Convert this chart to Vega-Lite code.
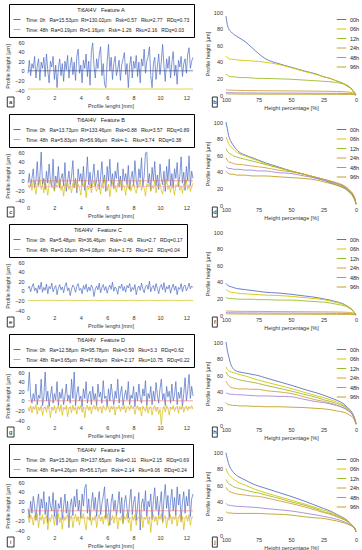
{
"$schema":"https://vega.github.io/schema/vega-lite/v6.json",
"padding":{"left":5,"top":3,"right":0,"bottom":0},
"config":{"font":"Liberation Sans","view":{"stroke":null},
"axis":{"labelFontSize":5.5,"titleFontSize":5.5,"titleFontWeight":"normal","labelColor":"#333","titleColor":"#333","grid":false,"domain":false,"ticks":false,"labelOverlap":false,"labelFlush":false,"labelBound":false}},
"datasets":{
"A":[
{"x":0,"0h":-5,"48h":-38},{"x":0.1,"0h":22,"48h":-37.6},{"x":0.2,"0h":-10,"48h":-38.3},{"x":0.3,"0h":15,"48h":-37.9},{"x":0.4,"0h":5,"48h":-38.1},{"x":0.5,"0h":30,"48h":-38.4},{"x":0.6,"0h":-15,"48h":-37.7},{"x":0.7,"0h":10,"48h":-38},{"x":0.8,"0h":25,"48h":-38.2},{"x":0.9,"0h":-20,"48h":-37.8},
{"x":1,"0h":18,"48h":-38},{"x":1.1,"0h":5,"48h":-37.6},{"x":1.2,"0h":28,"48h":-38.3},{"x":1.3,"0h":-12,"48h":-37.9},{"x":1.4,"0h":35,"48h":-38.1},{"x":1.5,"0h":0,"48h":-38.4},{"x":1.6,"0h":-25,"48h":-37.7},{"x":1.7,"0h":20,"48h":-38},{"x":1.8,"0h":8,"48h":-38.2},{"x":1.9,"0h":30,"48h":-37.8},
{"x":2,"0h":-18,"48h":-38},{"x":2.1,"0h":12,"48h":-37.6},{"x":2.2,"0h":-35,"48h":-38.3},{"x":2.3,"0h":5,"48h":-37.9},{"x":2.4,"0h":25,"48h":-38.1},{"x":2.5,"0h":-10,"48h":-38.4},{"x":2.6,"0h":15,"48h":-37.7},{"x":2.7,"0h":-22,"48h":-38},{"x":2.8,"0h":20,"48h":-38.2},{"x":2.9,"0h":2,"48h":-37.8},
{"x":3,"0h":32,"48h":-38},{"x":3.1,"0h":-15,"48h":-37.6},{"x":3.2,"0h":10,"48h":-38.3},{"x":3.3,"0h":28,"48h":-37.9},{"x":3.4,"0h":-8,"48h":-38.1},{"x":3.5,"0h":18,"48h":-38.4},{"x":3.6,"0h":-20,"48h":-37.7},{"x":3.7,"0h":30,"48h":-38},{"x":3.8,"0h":45,"48h":-38.2},{"x":3.9,"0h":-5,"48h":-37.8},
{"x":4,"0h":12,"48h":-38},{"x":4.1,"0h":-25,"48h":-37.6},{"x":4.2,"0h":22,"48h":-38.3},{"x":4.3,"0h":5,"48h":-37.9},{"x":4.4,"0h":35,"48h":-38.1},{"x":4.5,"0h":-12,"48h":-38.4},{"x":4.6,"0h":20,"48h":-37.7},{"x":4.7,"0h":-30,"48h":-38},{"x":4.8,"0h":40,"48h":-38.2},{"x":4.9,"0h":58,"48h":-37.8},
{"x":5,"0h":10,"48h":-38},{"x":5.1,"0h":-15,"48h":-37.6},{"x":5.2,"0h":25,"48h":-38.3},{"x":5.3,"0h":5,"48h":-37.9},{"x":5.4,"0h":35,"48h":-38.1},{"x":5.5,"0h":50,"48h":-38.4},{"x":5.6,"0h":-10,"48h":-37.7},{"x":5.7,"0h":15,"48h":-38},{"x":5.8,"0h":-28,"48h":-38.2},{"x":5.9,"0h":-35,"48h":-37.8},
{"x":6,"0h":20,"48h":-38},{"x":6.1,"0h":55,"48h":-37.6},{"x":6.2,"0h":0,"48h":-38.3},{"x":6.3,"0h":28,"48h":-37.9},{"x":6.4,"0h":-18,"48h":-38.1},{"x":6.5,"0h":15,"48h":-38.4},{"x":6.6,"0h":30,"48h":-37.7},{"x":6.7,"0h":-10,"48h":-38},{"x":6.8,"0h":5,"48h":-38.2},{"x":6.9,"0h":22,"48h":-37.8},
{"x":7,"0h":-20,"48h":-38},{"x":7.1,"0h":12,"48h":-37.6},{"x":7.2,"0h":25,"48h":-38.3},{"x":7.3,"0h":38,"48h":-37.9},{"x":7.4,"0h":-8,"48h":-38.1},{"x":7.5,"0h":15,"48h":-38.4},{"x":7.6,"0h":-35,"48h":-37.7},{"x":7.7,"0h":10,"48h":-38},{"x":7.8,"0h":30,"48h":-38.2},{"x":7.9,"0h":-15,"48h":-37.8},
{"x":8,"0h":20,"48h":-38},{"x":8.1,"0h":5,"48h":-37.6},{"x":8.2,"0h":32,"48h":-38.3},{"x":8.3,"0h":-12,"48h":-37.9},{"x":8.4,"0h":18,"48h":-38.1},{"x":8.5,"0h":-25,"48h":-38.4},{"x":8.6,"0h":25,"48h":-37.7},{"x":8.7,"0h":10,"48h":-38},{"x":8.8,"0h":45,"48h":-38.2},{"x":8.9,"0h":-5,"48h":-37.8},
{"x":9,"0h":20,"48h":-38},{"x":9.1,"0h":30,"48h":-37.6},{"x":9.2,"0h":50,"48h":-38.3},{"x":9.3,"0h":-10,"48h":-37.9},{"x":9.4,"0h":-35,"48h":-38.1},{"x":9.5,"0h":15,"48h":-38.4},{"x":9.6,"0h":28,"48h":-37.7},{"x":9.7,"0h":-18,"48h":-38},{"x":9.8,"0h":8,"48h":-38.2},{"x":9.9,"0h":35,"48h":-37.8},
{"x":10,"0h":-8,"48h":-38},{"x":10.1,"0h":20,"48h":-37.6},{"x":10.2,"0h":55,"48h":-38.3},{"x":10.3,"0h":10,"48h":-37.9},{"x":10.4,"0h":-22,"48h":-38.1},{"x":10.5,"0h":25,"48h":-38.4},{"x":10.6,"0h":5,"48h":-37.7},{"x":10.7,"0h":30,"48h":-38},{"x":10.8,"0h":-15,"48h":-38.2},{"x":10.9,"0h":18,"48h":-37.8},
{"x":11,"0h":40,"48h":-38},{"x":11.1,"0h":-10,"48h":-37.6},{"x":11.2,"0h":12,"48h":-38.3},{"x":11.3,"0h":-28,"48h":-37.9},{"x":11.4,"0h":22,"48h":-38.1},{"x":11.5,"0h":8,"48h":-38.4},{"x":11.6,"0h":30,"48h":-37.7},{"x":11.7,"0h":-12,"48h":-38},{"x":11.8,"0h":15,"48h":-38.2},{"x":11.9,"0h":25,"48h":-37.8},
{"x":12,"0h":-5,"48h":-38},{"x":12.1,"0h":35,"48h":-37.6},{"x":12.2,"0h":48,"48h":-38.3},{"x":12.3,"0h":5,"48h":-37.9},{"x":12.4,"0h":20,"48h":-38.1},{"x":12.5,"0h":28,"48h":-38.4}
],
"B":[
{"x":0,"0h":-5,"48h":-8},{"x":0.1,"0h":15,"48h":-15},{"x":0.2,"0h":-12,"48h":-5},{"x":0.3,"0h":5,"48h":-20},{"x":0.4,"0h":25,"48h":0},{"x":0.5,"0h":-15,"48h":-12},{"x":0.6,"0h":0,"48h":-28},{"x":0.7,"0h":40,"48h":-5},{"x":0.8,"0h":-10,"48h":-10},{"x":0.9,"0h":10,"48h":5},
{"x":1,"0h":60,"48h":-18},{"x":1.1,"0h":-8,"48h":-8},{"x":1.2,"0h":5,"48h":-25},{"x":1.3,"0h":-18,"48h":-3},{"x":1.4,"0h":20,"48h":-12},{"x":1.5,"0h":-5,"48h":-30},{"x":1.6,"0h":35,"48h":-6},{"x":1.7,"0h":0,"48h":2},{"x":1.8,"0h":-12,"48h":-15},{"x":1.9,"0h":45,"48h":-10},
{"x":2,"0h":-20,"48h":-22},{"x":2.1,"0h":10,"48h":-4},{"x":2.2,"0h":-5,"48h":-14},{"x":2.3,"0h":30,"48h":-8},{"x":2.4,"0h":-15,"48h":5},{"x":2.5,"0h":5,"48h":-20},{"x":2.6,"0h":15,"48h":-10},{"x":2.7,"0h":-10,"48h":-32},{"x":2.8,"0h":38,"48h":-6},{"x":2.9,"0h":-22,"48h":-12},
{"x":3,"0h":0,"48h":-2},{"x":3.1,"0h":20,"48h":-18},{"x":3.2,"0h":-8,"48h":-9},{"x":3.3,"0h":10,"48h":-25},{"x":3.4,"0h":42,"48h":-5},{"x":3.5,"0h":-15,"48h":-14},{"x":3.6,"0h":5,"48h":3},{"x":3.7,"0h":-25,"48h":-20},{"x":3.8,"0h":25,"48h":-8},{"x":3.9,"0h":0,"48h":-15},
{"x":4,"0h":15,"48h":-30},{"x":4.1,"0h":-10,"48h":-6},{"x":4.2,"0h":30,"48h":-12},{"x":4.3,"0h":-20,"48h":-2},{"x":4.4,"0h":5,"48h":-35},{"x":4.5,"0h":50,"48h":-10},{"x":4.6,"0h":-8,"48h":-18},{"x":4.7,"0h":18,"48h":-5},{"x":4.8,"0h":-15,"48h":-25},{"x":4.9,"0h":10,"48h":-8},
{"x":5,"0h":35,"48h":0},{"x":5.1,"0h":-12,"48h":-15},{"x":5.2,"0h":0,"48h":-22},{"x":5.3,"0h":22,"48h":-6},{"x":5.4,"0h":-18,"48h":-12},{"x":5.5,"0h":8,"48h":-28},{"x":5.6,"0h":40,"48h":-4},{"x":5.7,"0h":-5,"48h":-16},{"x":5.8,"0h":12,"48h":5},{"x":5.9,"0h":-22,"48h":-10},
{"x":6,"0h":30,"48h":-20},{"x":6.1,"0h":0,"48h":-7},{"x":6.2,"0h":45,"48h":-33},{"x":6.3,"0h":-10,"48h":-12},{"x":6.4,"0h":15,"48h":-3},{"x":6.5,"0h":-15,"48h":-18},{"x":6.6,"0h":20,"48h":-9},{"x":6.7,"0h":5,"48h":-24},{"x":6.8,"0h":38,"48h":-5},{"x":6.9,"0h":-12,"48h":-14},
{"x":7,"0h":10,"48h":2},{"x":7.1,"0h":-20,"48h":-20},{"x":7.2,"0h":25,"48h":-8},{"x":7.3,"0h":0,"48h":-12},{"x":7.4,"0h":15,"48h":-30},{"x":7.5,"0h":-8,"48h":-6},{"x":7.6,"0h":32,"48h":-16},{"x":7.7,"0h":-18,"48h":-2},{"x":7.8,"0h":5,"48h":-22},{"x":7.9,"0h":20,"48h":-10},
{"x":8,"0h":-10,"48h":-5},{"x":8.1,"0h":42,"48h":-18},{"x":8.2,"0h":0,"48h":-26},{"x":8.3,"0h":-15,"48h":-8},{"x":8.4,"0h":25,"48h":-13},{"x":8.5,"0h":5,"48h":3},{"x":8.6,"0h":48,"48h":-20},{"x":8.7,"0h":-12,"48h":-9},{"x":8.8,"0h":10,"48h":-15},{"x":8.9,"0h":58,"48h":-32},
{"x":9,"0h":60,"48h":-6},{"x":9.1,"0h":-5,"48h":-12},{"x":9.2,"0h":15,"48h":-4},{"x":9.3,"0h":-20,"48h":-22},{"x":9.4,"0h":28,"48h":-10},{"x":9.5,"0h":0,"48h":-16},{"x":9.6,"0h":40,"48h":0},{"x":9.7,"0h":-10,"48h":-25},{"x":9.8,"0h":12,"48h":-8},{"x":9.9,"0h":-18,"48h":-14},
{"x":10,"0h":35,"48h":-5},{"x":10.1,"0h":5,"48h":-20},{"x":10.2,"0h":-8,"48h":-28},{"x":10.3,"0h":20,"48h":-7},{"x":10.4,"0h":-22,"48h":-12},{"x":10.5,"0h":30,"48h":4},{"x":10.6,"0h":0,"48h":-18},{"x":10.7,"0h":45,"48h":-9},{"x":10.8,"0h":-10,"48h":-24},{"x":10.9,"0h":15,"48h":-5},
{"x":11,"0h":-15,"48h":-15},{"x":11.1,"0h":25,"48h":-30},{"x":11.2,"0h":5,"48h":-8},{"x":11.3,"0h":38,"48h":-12},{"x":11.4,"0h":-12,"48h":-2},{"x":11.5,"0h":10,"48h":-20},{"x":11.6,"0h":50,"48h":-10},{"x":11.7,"0h":-5,"48h":-26},{"x":11.8,"0h":18,"48h":-6},{"x":11.9,"0h":-20,"48h":-14},
{"x":12,"0h":30,"48h":2},{"x":12.1,"0h":0,"48h":-18},{"x":12.2,"0h":52,"48h":-8},{"x":12.3,"0h":-10,"48h":-22},{"x":12.4,"0h":20,"48h":-12},{"x":12.5,"0h":5,"48h":-5}
],
"C":[
{"x":0,"0h":5,"48h":-20},{"x":0.1,"0h":10,"48h":-19.6},{"x":0.2,"0h":-2,"48h":-20.3},{"x":0.3,"0h":8,"48h":-19.9},{"x":0.4,"0h":15,"48h":-20.1},{"x":0.5,"0h":0,"48h":-20.4},{"x":0.6,"0h":6,"48h":-19.7},{"x":0.7,"0h":-5,"48h":-20},{"x":0.8,"0h":12,"48h":-20.2},{"x":0.9,"0h":3,"48h":-19.8},
{"x":1,"0h":18,"48h":-20},{"x":1.1,"0h":-3,"48h":-19.6},{"x":1.2,"0h":7,"48h":-20.3},{"x":1.3,"0h":1,"48h":-19.9},{"x":1.4,"0h":14,"48h":-20.1},{"x":1.5,"0h":-6,"48h":-20.4},{"x":1.6,"0h":9,"48h":-19.7},{"x":1.7,"0h":4,"48h":-20},{"x":1.8,"0h":16,"48h":-20.2},{"x":1.9,"0h":-2,"48h":-19.8},
{"x":2,"0h":6,"48h":-20},{"x":2.1,"0h":11,"48h":-19.6},{"x":2.2,"0h":-8,"48h":-20.3},{"x":2.3,"0h":5,"48h":-19.9},{"x":2.4,"0h":13,"48h":-20.1},{"x":2.5,"0h":2,"48h":-20.4},{"x":2.6,"0h":8,"48h":-19.7},{"x":2.7,"0h":-4,"48h":-20},{"x":2.8,"0h":10,"48h":-20.2},{"x":2.9,"0h":17,"48h":-19.8},
{"x":3,"0h":0,"48h":-20},{"x":3.1,"0h":6,"48h":-19.6},{"x":3.2,"0h":-10,"48h":-20.3},{"x":3.3,"0h":4,"48h":-19.9},{"x":3.4,"0h":12,"48h":-20.1},{"x":3.5,"0h":7,"48h":-20.4},{"x":3.6,"0h":-3,"48h":-19.7},{"x":3.7,"0h":9,"48h":-20},{"x":3.8,"0h":15,"48h":-20.2},{"x":3.9,"0h":1,"48h":-19.8},
{"x":4,"0h":5,"48h":-20},{"x":4.1,"0h":-6,"48h":-19.6},{"x":4.2,"0h":11,"48h":-20.3},{"x":4.3,"0h":3,"48h":-19.9},{"x":4.4,"0h":14,"48h":-20.1},{"x":4.5,"0h":-2,"48h":-20.4},{"x":4.6,"0h":8,"48h":-19.7},{"x":4.7,"0h":0,"48h":-20},{"x":4.8,"0h":12,"48h":-20.2},{"x":4.9,"0h":6,"48h":-19.8},
{"x":5,"0h":-12,"48h":-20},{"x":5.1,"0h":4,"48h":-19.6},{"x":5.2,"0h":10,"48h":-20.3},{"x":5.3,"0h":2,"48h":-19.9},{"x":5.4,"0h":16,"48h":-20.1},{"x":5.5,"0h":-4,"48h":-20.4},{"x":5.6,"0h":7,"48h":-19.7},{"x":5.7,"0h":13,"48h":-20},{"x":5.8,"0h":1,"48h":-20.2},{"x":5.9,"0h":9,"48h":-19.8},
{"x":6,"0h":-5,"48h":-20},{"x":6.1,"0h":6,"48h":-19.6},{"x":6.2,"0h":12,"48h":-20.3},{"x":6.3,"0h":3,"48h":-19.9},{"x":6.4,"0h":18,"48h":-20.1},{"x":6.5,"0h":-1,"48h":-20.4},{"x":6.6,"0h":8,"48h":-19.7},{"x":6.7,"0h":4,"48h":-20},{"x":6.8,"0h":-7,"48h":-20.2},{"x":6.9,"0h":10,"48h":-19.8},
{"x":7,"0h":5,"48h":-20},{"x":7.1,"0h":14,"48h":-19.6},{"x":7.2,"0h":0,"48h":-20.3},{"x":7.3,"0h":9,"48h":-19.9},{"x":7.4,"0h":-3,"48h":-20.1},{"x":7.5,"0h":11,"48h":-20.4},{"x":7.6,"0h":6,"48h":-19.7},{"x":7.7,"0h":15,"48h":-20},{"x":7.8,"0h":-2,"48h":-20.2},{"x":7.9,"0h":7,"48h":-19.8},
{"x":8,"0h":2,"48h":-20},{"x":8.1,"0h":13,"48h":-19.6},{"x":8.2,"0h":-8,"48h":-20.3},{"x":8.3,"0h":5,"48h":-19.9},{"x":8.4,"0h":10,"48h":-20.1},{"x":8.5,"0h":1,"48h":-20.4},{"x":8.6,"0h":16,"48h":-19.7},{"x":8.7,"0h":4,"48h":-20},{"x":8.8,"0h":-4,"48h":-20.2},{"x":8.9,"0h":9,"48h":-19.8},
{"x":9,"0h":12,"48h":-20},{"x":9.1,"0h":3,"48h":-19.6},{"x":9.2,"0h":20,"48h":-20.3},{"x":9.3,"0h":-2,"48h":-19.9},{"x":9.4,"0h":7,"48h":-20.1},{"x":9.5,"0h":11,"48h":-20.4},{"x":9.6,"0h":0,"48h":-19.7},{"x":9.7,"0h":15,"48h":-20},{"x":9.8,"0h":5,"48h":-20.2},{"x":9.9,"0h":-6,"48h":-19.8},
{"x":10,"0h":8,"48h":-20},{"x":10.1,"0h":13,"48h":-19.6},{"x":10.2,"0h":2,"48h":-20.3},{"x":10.3,"0h":17,"48h":-19.9},{"x":10.4,"0h":-3,"48h":-20.1},{"x":10.5,"0h":9,"48h":-20.4},{"x":10.6,"0h":4,"48h":-19.7},{"x":10.7,"0h":12,"48h":-20},{"x":10.8,"0h":-5,"48h":-20.2},{"x":10.9,"0h":6,"48h":-19.8},
{"x":11,"0h":14,"48h":-20},{"x":11.1,"0h":1,"48h":-19.6},{"x":11.2,"0h":10,"48h":-20.3},{"x":11.3,"0h":-8,"48h":-19.9},{"x":11.4,"0h":7,"48h":-20.1},{"x":11.5,"0h":3,"48h":-20.4},{"x":11.6,"0h":15,"48h":-19.7},{"x":11.7,"0h":-2,"48h":-20},{"x":11.8,"0h":9,"48h":-20.2},{"x":11.9,"0h":12,"48h":-19.8},
{"x":12,"0h":0,"48h":-20},{"x":12.1,"0h":6,"48h":-19.6},{"x":12.2,"0h":16,"48h":-20.3},{"x":12.3,"0h":4,"48h":-19.9},{"x":12.4,"0h":10,"48h":-20.1},{"x":12.5,"0h":7,"48h":-20.4}
],
"D":[
{"x":0,"0h":20,"48h":-15},{"x":0.1,"0h":60,"48h":-22},{"x":0.2,"0h":10,"48h":-10},{"x":0.3,"0h":-5,"48h":-25},{"x":0.4,"0h":15,"48h":-12},{"x":0.5,"0h":0,"48h":-18},{"x":0.6,"0h":35,"48h":-8},{"x":0.7,"0h":-8,"48h":-28},{"x":0.8,"0h":12,"48h":-14},{"x":0.9,"0h":5,"48h":-20},
{"x":1,"0h":45,"48h":-10},{"x":1.1,"0h":-10,"48h":-30},{"x":1.2,"0h":8,"48h":-16},{"x":1.3,"0h":60,"48h":-12},{"x":1.4,"0h":0,"48h":-24},{"x":1.5,"0h":20,"48h":-9},{"x":1.6,"0h":-12,"48h":-18},{"x":1.7,"0h":10,"48h":-35},{"x":1.8,"0h":30,"48h":-13},{"x":1.9,"0h":-5,"48h":-20},
{"x":2,"0h":15,"48h":-10},{"x":2.1,"0h":2,"48h":-26},{"x":2.2,"0h":40,"48h":-15},{"x":2.3,"0h":-10,"48h":-11},{"x":2.4,"0h":18,"48h":-22},{"x":2.5,"0h":5,"48h":-8},{"x":2.6,"0h":25,"48h":-30},{"x":2.7,"0h":-8,"48h":-14},{"x":2.8,"0h":10,"48h":-18},{"x":2.9,"0h":35,"48h":-10},
{"x":3,"0h":0,"48h":-33},{"x":3.1,"0h":12,"48h":-16},{"x":3.2,"0h":-5,"48h":-12},{"x":3.3,"0h":45,"48h":-25},{"x":3.4,"0h":5,"48h":-9},{"x":3.5,"0h":60,"48h":-20},{"x":3.6,"0h":-10,"48h":-14},{"x":3.7,"0h":15,"48h":-28},{"x":3.8,"0h":30,"48h":-11},{"x":3.9,"0h":0,"48h":-18},
{"x":4,"0h":10,"48h":-10},{"x":4.1,"0h":-12,"48h":-24},{"x":4.2,"0h":25,"48h":-13},{"x":4.3,"0h":5,"48h":-35},{"x":4.4,"0h":40,"48h":-15},{"x":4.5,"0h":-5,"48h":-9},{"x":4.6,"0h":12,"48h":-20},{"x":4.7,"0h":20,"48h":-12},{"x":4.8,"0h":-8,"48h":-27},{"x":4.9,"0h":30,"48h":-14},
{"x":5,"0h":2,"48h":-10},{"x":5.1,"0h":15,"48h":-18},{"x":5.2,"0h":-10,"48h":-8},{"x":5.3,"0h":35,"48h":-22},{"x":5.4,"0h":8,"48h":-15},{"x":5.5,"0h":18,"48h":-12},{"x":5.6,"0h":-5,"48h":-26},{"x":5.7,"0h":42,"48h":-10},{"x":5.8,"0h":5,"48h":-16},{"x":5.9,"0h":10,"48h":-20},
{"x":6,"0h":-12,"48h":-9},{"x":6.1,"0h":25,"48h":-14},{"x":6.2,"0h":0,"48h":-24},{"x":6.3,"0h":35,"48h":-11},{"x":6.4,"0h":12,"48h":-18},{"x":6.5,"0h":-8,"48h":-10},{"x":6.6,"0h":20,"48h":-30},{"x":6.7,"0h":5,"48h":-13},{"x":6.8,"0h":45,"48h":-16},{"x":6.9,"0h":-5,"48h":-9},
{"x":7,"0h":15,"48h":-22},{"x":7.1,"0h":30,"48h":-12},{"x":7.2,"0h":-10,"48h":-18},{"x":7.3,"0h":10,"48h":-10},{"x":7.4,"0h":22,"48h":-25},{"x":7.5,"0h":2,"48h":-14},{"x":7.6,"0h":40,"48h":-11},{"x":7.7,"0h":-8,"48h":-20},{"x":7.8,"0h":12,"48h":-9},{"x":7.9,"0h":5,"48h":-16},
{"x":8,"0h":30,"48h":-12},{"x":8.1,"0h":-12,"48h":-28},{"x":8.2,"0h":18,"48h":-15},{"x":8.3,"0h":0,"48h":-10},{"x":8.4,"0h":35,"48h":-20},{"x":8.5,"0h":8,"48h":-13},{"x":8.6,"0h":-5,"48h":-32},{"x":8.7,"0h":25,"48h":-11},{"x":8.8,"0h":10,"48h":-17},{"x":8.9,"0h":42,"48h":-22},
{"x":9,"0h":-10,"48h":-10},{"x":9.1,"0h":15,"48h":-26},{"x":9.2,"0h":5,"48h":-14},{"x":9.3,"0h":30,"48h":-12},{"x":9.4,"0h":-8,"48h":-30},{"x":9.5,"0h":20,"48h":-16},{"x":9.6,"0h":0,"48h":-10},{"x":9.7,"0h":38,"48h":-22},{"x":9.8,"0h":12,"48h":-13},{"x":9.9,"0h":-5,"48h":-28},
{"x":10,"0h":25,"48h":-18},{"x":10.1,"0h":45,"48h":-50},{"x":10.2,"0h":2,"48h":-20},{"x":10.3,"0h":15,"48h":-12},{"x":10.4,"0h":-10,"48h":-24},{"x":10.5,"0h":30,"48h":-10},{"x":10.6,"0h":8,"48h":-16},{"x":10.7,"0h":20,"48h":-30},{"x":10.8,"0h":-5,"48h":-13},{"x":10.9,"0h":35,"48h":-18},
{"x":11,"0h":0,"48h":-10},{"x":11.1,"0h":12,"48h":-22},{"x":11.2,"0h":40,"48h":-14},{"x":11.3,"0h":-8,"48h":-11},{"x":11.4,"0h":18,"48h":-26},{"x":11.5,"0h":5,"48h":-12},{"x":11.6,"0h":28,"48h":-18},{"x":11.7,"0h":-12,"48h":-9},{"x":11.8,"0h":15,"48h":-24},{"x":11.9,"0h":48,"48h":-14},
{"x":12,"0h":0,"48h":-11},{"x":12.1,"0h":22,"48h":-20},{"x":12.2,"0h":55,"48h":-12},{"x":12.3,"0h":5,"48h":-16},{"x":12.4,"0h":30,"48h":-10},{"x":12.5,"0h":10,"48h":-18}
],
"E":[
{"x":0,"0h":5,"48h":-10},{"x":0.1,"0h":-15,"48h":-25},{"x":0.2,"0h":20,"48h":-8},{"x":0.3,"0h":-5,"48h":-15},{"x":0.4,"0h":30,"48h":-30},{"x":0.5,"0h":10,"48h":-10},{"x":0.6,"0h":-20,"48h":-18},{"x":0.7,"0h":15,"48h":-6},{"x":0.8,"0h":35,"48h":-35},{"x":0.9,"0h":-10,"48h":-12},
{"x":1,"0h":25,"48h":-20},{"x":1.1,"0h":5,"48h":-8},{"x":1.2,"0h":40,"48h":-28},{"x":1.3,"0h":-8,"48h":-14},{"x":1.4,"0h":18,"48h":-10},{"x":1.5,"0h":-25,"48h":-40},{"x":1.6,"0h":30,"48h":-15},{"x":1.7,"0h":10,"48h":-22},{"x":1.8,"0h":0,"48h":-8},{"x":1.9,"0h":38,"48h":-12},
{"x":2,"0h":-12,"48h":-30},{"x":2.1,"0h":22,"48h":-10},{"x":2.2,"0h":-30,"48h":-18},{"x":2.3,"0h":15,"48h":-6},{"x":2.4,"0h":5,"48h":-25},{"x":2.5,"0h":28,"48h":-14},{"x":2.6,"0h":-18,"48h":-38},{"x":2.7,"0h":10,"48h":-10},{"x":2.8,"0h":35,"48h":-20},{"x":2.9,"0h":-5,"48h":-12},
{"x":3,"0h":20,"48h":-8},{"x":3.1,"0h":-35,"48h":-28},{"x":3.2,"0h":12,"48h":-15},{"x":3.3,"0h":25,"48h":-10},{"x":3.4,"0h":-10,"48h":-35},{"x":3.5,"0h":30,"48h":-18},{"x":3.6,"0h":8,"48h":-7},{"x":3.7,"0h":45,"48h":-22},{"x":3.8,"0h":0,"48h":-12},{"x":3.9,"0h":22,"48h":-30},
{"x":4,"0h":-15,"48h":-10},{"x":4.1,"0h":35,"48h":-16},{"x":4.2,"0h":10,"48h":-6},{"x":4.3,"0h":48,"48h":-25},{"x":4.4,"0h":55,"48h":-40},{"x":4.5,"0h":-5,"48h":-12},{"x":4.6,"0h":25,"48h":-18},{"x":4.7,"0h":-20,"48h":-8},{"x":4.8,"0h":15,"48h":-30},{"x":4.9,"0h":38,"48h":-14},
{"x":5,"0h":2,"48h":-20},{"x":5.1,"0h":28,"48h":-10},{"x":5.2,"0h":-12,"48h":-35},{"x":5.3,"0h":20,"48h":-15},{"x":5.4,"0h":40,"48h":-8},{"x":5.5,"0h":-8,"48h":-22},{"x":5.6,"0h":15,"48h":-12},{"x":5.7,"0h":30,"48h":-28},{"x":5.8,"0h":50,"48h":-10},{"x":5.9,"0h":-15,"48h":-18},
{"x":6,"0h":25,"48h":-6},{"x":6.1,"0h":5,"48h":-32},{"x":6.2,"0h":-30,"48h":-14},{"x":6.3,"0h":18,"48h":-20},{"x":6.4,"0h":35,"48h":-10},{"x":6.5,"0h":0,"48h":-26},{"x":6.6,"0h":22,"48h":-12},{"x":6.7,"0h":-10,"48h":-8},{"x":6.8,"0h":12,"48h":-38},{"x":6.9,"0h":40,"48h":-15},
{"x":7,"0h":-5,"48h":-20},{"x":7.1,"0h":28,"48h":-10},{"x":7.2,"0h":-25,"48h":-28},{"x":7.3,"0h":15,"48h":-12},{"x":7.4,"0h":32,"48h":-18},{"x":7.5,"0h":5,"48h":-6},{"x":7.6,"0h":-15,"48h":-25},{"x":7.7,"0h":20,"48h":-14},{"x":7.8,"0h":45,"48h":-42},{"x":7.9,"0h":-8,"48h":-10},
{"x":8,"0h":18,"48h":-20},{"x":8.1,"0h":30,"48h":-8},{"x":8.2,"0h":-20,"48h":-30},{"x":8.3,"0h":10,"48h":-15},{"x":8.4,"0h":38,"48h":-12},{"x":8.5,"0h":-40,"48h":-22},{"x":8.6,"0h":15,"48h":-8},{"x":8.7,"0h":25,"48h":-35},{"x":8.8,"0h":0,"48h":-14},{"x":8.9,"0h":42,"48h":-18},
{"x":9,"0h":-12,"48h":-10},{"x":9.1,"0h":20,"48h":-28},{"x":9.2,"0h":8,"48h":-12},{"x":9.3,"0h":35,"48h":-45},{"x":9.4,"0h":-18,"48h":-16},{"x":9.5,"0h":22,"48h":-8},{"x":9.6,"0h":48,"48h":-22},{"x":9.7,"0h":2,"48h":-12},{"x":9.8,"0h":30,"48h":-30},{"x":9.9,"0h":-10,"48h":-10},
{"x":10,"0h":15,"48h":-18},{"x":10.1,"0h":40,"48h":-6},{"x":10.2,"0h":-22,"48h":-26},{"x":10.3,"0h":25,"48h":-14},{"x":10.4,"0h":55,"48h":-10},{"x":10.5,"0h":5,"48h":-35},{"x":10.6,"0h":32,"48h":-15},{"x":10.7,"0h":-15,"48h":-20},{"x":10.8,"0h":20,"48h":-8},{"x":10.9,"0h":45,"48h":-28},
{"x":11,"0h":0,"48h":-12},{"x":11.1,"0h":28,"48h":-18},{"x":11.2,"0h":-10,"48h":-10},{"x":11.3,"0h":50,"48h":-32},{"x":11.4,"0h":12,"48h":-14},{"x":11.5,"0h":35,"48h":-8},{"x":11.6,"0h":-20,"48h":-24},{"x":11.7,"0h":18,"48h":-12},{"x":11.8,"0h":40,"48h":-40},{"x":11.9,"0h":-5,"48h":-16},
{"x":12,"0h":30,"48h":-10},{"x":12.1,"0h":10,"48h":-22},{"x":12.2,"0h":45,"48h":-8},{"x":12.3,"0h":-12,"48h":-30},{"x":12.4,"0h":25,"48h":-14},{"x":12.5,"0h":35,"48h":-12}
],
"Ab":[
{"p":100,"00h":95,"06h":47,"12h":25,"24h":6.5,"48h":3,"96h":1.5},{"p":99,"00h":85,"06h":45,"12h":24,"24h":6,"48h":2.9,"96h":1.4},{"p":98,"00h":80,"06h":44,"12h":23,"24h":6,"48h":2.8,"96h":1.3},{"p":96,"00h":76,"06h":43,"12h":22,"24h":5.8,"48h":2.7,"96h":1.3},{"p":94,"00h":73,"06h":43,"12h":22,"24h":5.7,"48h":2.7,"96h":1.2},{"p":92,"00h":71,"06h":42.5,"12h":21.5,"24h":5.6,"48h":2.6,"96h":1.2},{"p":90,"00h":69,"06h":42,"12h":21,"24h":5.5,"48h":2.6,"96h":1.2},{"p":85,"00h":64,"06h":41.5,"12h":21,"24h":5.4,"48h":2.5,"96h":1.1},{"p":80,"00h":57,"06h":41,"12h":20.5,"24h":5.3,"48h":2.5,"96h":1.1},{"p":75,"00h":50,"06h":40.5,"12h":20,"24h":5.2,"48h":2.4,"96h":1.1},{"p":70,"00h":44,"06h":39.5,"12h":20,"24h":5.1,"48h":2.4,"96h":1},{"p":60,"00h":38,"06h":37,"12h":19.5,"24h":5,"48h":2.3,"96h":1},{"p":50,"00h":33.5,"06h":33,"12h":19,"24h":4.9,"48h":2.3,"96h":1},{"p":40,"00h":29,"06h":28.5,"12h":18,"24h":4.8,"48h":2.2,"96h":1},{"p":30,"00h":25,"06h":24.5,"12h":17,"24h":4.6,"48h":2.1,"96h":0.9},{"p":25,"00h":22,"06h":22,"12h":16.5,"24h":4.5,"48h":2.1,"96h":0.9},{"p":20,"00h":20,"06h":20,"12h":16,"24h":4.4,"48h":2,"96h":0.9},{"p":15,"00h":17,"06h":17,"12h":15,"24h":4.2,"48h":2,"96h":0.8},{"p":10,"00h":14,"06h":14,"12h":13.5,"24h":4,"48h":1.9,"96h":0.8},{"p":7,"00h":11,"06h":11,"12h":12,"24h":3.7,"48h":1.8,"96h":0.7},{"p":5,"00h":9,"06h":9,"12h":10,"24h":3.4,"48h":1.7,"96h":0.7},{"p":3,"00h":6,"06h":6,"12h":7,"24h":2.8,"48h":1.4,"96h":0.6},{"p":2,"00h":4,"06h":4,"12h":5,"24h":2.2,"48h":1.1,"96h":0.5},{"p":1,"00h":2,"06h":2,"12h":3,"24h":1.4,"48h":0.8,"96h":0.3},{"p":0,"00h":0,"06h":0,"12h":0,"24h":0,"48h":0,"96h":0}
],
"Bb":[
{"p":100,"00h":100,"06h":82,"12h":68,"24h":57,"48h":46,"96h":41},{"p":99,"00h":92,"06h":78,"12h":65,"24h":54,"48h":45,"96h":39},{"p":98,"00h":84,"06h":74,"12h":63,"24h":52,"48h":44,"96h":38},{"p":96,"00h":76,"06h":70,"12h":61,"24h":51,"48h":44,"96h":37},{"p":94,"00h":71,"06h":67,"12h":59,"24h":50,"48h":43,"96h":37},{"p":92,"00h":67,"06h":64,"12h":58,"24h":49,"48h":43,"96h":36},{"p":90,"00h":64,"06h":62,"12h":57,"24h":49,"48h":43,"96h":36},{"p":85,"00h":60,"06h":59,"12h":55,"24h":48,"48h":42,"96h":36},{"p":80,"00h":57,"06h":56,"12h":53,"24h":47,"48h":42,"96h":35},{"p":75,"00h":54,"06h":53,"12h":51,"24h":46,"48h":41,"96h":35},{"p":70,"00h":51,"06h":50,"12h":49,"24h":45,"48h":41,"96h":35},{"p":60,"00h":46,"06h":45,"12h":45,"24h":42,"48h":39,"96h":34},{"p":50,"00h":41,"06h":41,"12h":41,"24h":40,"48h":38,"96h":33},{"p":40,"00h":37,"06h":37,"12h":37,"24h":37,"48h":35,"96h":32},{"p":30,"00h":32,"06h":33,"12h":33,"24h":33,"48h":32,"96h":30},{"p":25,"00h":30,"06h":31,"12h":31,"24h":31,"48h":30,"96h":28},{"p":20,"00h":27,"06h":28,"12h":29,"24h":29,"48h":28,"96h":26},{"p":15,"00h":24,"06h":25,"12h":26,"24h":27,"48h":26,"96h":24},{"p":10,"00h":21,"06h":22,"12h":23,"24h":24,"48h":23,"96h":21},{"p":7,"00h":18,"06h":19,"12h":20,"24h":21,"48h":20,"96h":19},{"p":5,"00h":15,"06h":16,"12h":17,"24h":18,"48h":17,"96h":16},{"p":3,"00h":12,"06h":13,"12h":14,"24h":15,"48h":14,"96h":13},{"p":2,"00h":9,"06h":10,"12h":11,"24h":12,"48h":11,"96h":10},{"p":1,"00h":6,"06h":7,"12h":8,"24h":9,"48h":8,"96h":7},{"p":0,"00h":1,"06h":1,"12h":1,"24h":1,"48h":1,"96h":1}
],
"Cb":[
{"p":100,"00h":38,"06h":31,"12h":21,"24h":5,"48h":3,"96h":1.5},{"p":99,"00h":36,"06h":29.5,"12h":20.5,"24h":4.8,"48h":2.9,"96h":1.4},{"p":98,"00h":35,"06h":28.5,"12h":20,"24h":4.7,"48h":2.8,"96h":1.4},{"p":96,"00h":34,"06h":27.5,"12h":20,"24h":4.6,"48h":2.7,"96h":1.3},{"p":94,"00h":33,"06h":27,"12h":19.5,"24h":4.5,"48h":2.7,"96h":1.3},{"p":92,"00h":32,"06h":26.5,"12h":19.5,"24h":4.5,"48h":2.6,"96h":1.2},{"p":90,"00h":31.5,"06h":26,"12h":19,"24h":4.4,"48h":2.6,"96h":1.2},{"p":85,"00h":30.5,"06h":25.5,"12h":19,"24h":4.4,"48h":2.5,"96h":1.2},{"p":80,"00h":29.5,"06h":25,"12h":19,"24h":4.3,"48h":2.5,"96h":1.1},{"p":75,"00h":28.5,"06h":24.5,"12h":18.5,"24h":4.3,"48h":2.4,"96h":1.1},{"p":70,"00h":27.5,"06h":24,"12h":18.5,"24h":4.2,"48h":2.4,"96h":1.1},{"p":60,"00h":26.5,"06h":23.5,"12h":18,"24h":4.1,"48h":2.3,"96h":1},{"p":50,"00h":25,"06h":22.5,"12h":18,"24h":4,"48h":2.3,"96h":1},{"p":40,"00h":23,"06h":21,"12h":17,"24h":3.9,"48h":2.2,"96h":1},{"p":30,"00h":21,"06h":19.5,"12h":16,"24h":3.8,"48h":2.1,"96h":0.9},{"p":25,"00h":19.5,"06h":18.5,"12h":15.5,"24h":3.8,"48h":2.1,"96h":0.9},{"p":20,"00h":18,"06h":17,"12h":14.5,"24h":3.7,"48h":2,"96h":0.9},{"p":15,"00h":16,"06h":15,"12h":13,"24h":3.6,"48h":2,"96h":0.8},{"p":10,"00h":13.5,"06h":13,"12h":11.5,"24h":3.5,"48h":1.9,"96h":0.8},{"p":7,"00h":11,"06h":11,"12h":10,"24h":3.3,"48h":1.8,"96h":0.7},{"p":5,"00h":9,"06h":9,"12h":8,"24h":3.1,"48h":1.7,"96h":0.7},{"p":3,"00h":6.5,"06h":6.5,"12h":6,"24h":2.6,"48h":1.4,"96h":0.6},{"p":2,"00h":4.5,"06h":4.5,"12h":4,"24h":2.1,"48h":1.1,"96h":0.5},{"p":1,"00h":2.5,"06h":2.5,"12h":2,"24h":1.3,"48h":0.8,"96h":0.3},{"p":0,"00h":0,"06h":0,"12h":0,"24h":0,"48h":0,"96h":0}
],
"Db":[
{"p":100,"00h":100,"06h":70,"12h":64,"24h":53,"48h":39,"96h":27},{"p":99,"00h":90,"06h":67,"12h":61,"24h":50,"48h":38,"96h":25},{"p":98,"00h":83,"06h":65.5,"12h":59,"24h":48,"48h":37.5,"96h":24.5},{"p":96,"00h":72,"06h":64,"12h":57.5,"24h":45,"48h":37,"96h":24},{"p":94,"00h":67,"06h":63,"12h":56.5,"24h":44.5,"48h":37,"96h":23.5},{"p":92,"00h":65,"06h":62,"12h":55.5,"24h":44,"48h":36.5,"96h":23.5},{"p":90,"00h":64,"06h":61,"12h":54.5,"24h":43.5,"48h":36.5,"96h":23},{"p":85,"00h":62.5,"06h":59,"12h":53,"24h":43.5,"48h":36,"96h":23},{"p":80,"00h":61,"06h":56.5,"12h":51.5,"24h":43,"48h":35.5,"96h":22.5},{"p":75,"00h":59.5,"06h":54,"12h":50,"24h":43,"48h":35,"96h":22.5},{"p":70,"00h":57,"06h":52,"12h":48,"24h":41.5,"48h":35,"96h":22},{"p":60,"00h":52.5,"06h":48,"12h":44.5,"24h":40,"48h":34.5,"96h":22},{"p":50,"00h":48,"06h":44,"12h":41,"24h":38,"48h":34,"96h":21.5},{"p":40,"00h":43,"06h":39.5,"12h":37,"24h":34,"48h":31,"96h":21},{"p":30,"00h":38.5,"06h":35,"12h":33,"24h":30,"48h":28,"96h":20},{"p":25,"00h":36,"06h":33,"12h":30.5,"24h":28.5,"48h":27,"96h":19.5},{"p":20,"00h":33,"06h":30.5,"12h":28.5,"24h":26.5,"48h":25.5,"96h":18.5},{"p":15,"00h":30,"06h":28,"12h":26,"24h":24,"48h":23.5,"96h":17},{"p":10,"00h":26,"06h":24,"12h":23,"24h":21,"48h":21,"96h":15.5},{"p":7,"00h":22,"06h":21,"12h":20,"24h":19,"48h":18,"96h":14},{"p":5,"00h":19,"06h":18,"12h":17,"24h":16,"48h":16,"96h":12},{"p":3,"00h":15,"06h":14,"12h":14,"24h":13,"48h":13,"96h":10},{"p":2,"00h":12,"06h":11,"12h":11,"24h":10,"48h":10,"96h":8},{"p":1,"00h":8,"06h":7,"12h":7,"24h":7,"48h":7,"96h":5},{"p":0,"00h":2,"06h":1,"12h":1,"24h":1,"48h":1,"96h":1}
],
"Eb":[
{"p":100,"00h":99,"06h":80,"12h":67,"24h":57.5,"48h":38,"96h":28},{"p":99,"00h":92,"06h":76,"12h":64,"24h":55,"48h":36.5,"96h":27},{"p":98,"00h":86,"06h":73,"12h":62,"24h":53,"48h":36,"96h":26.5},{"p":96,"00h":79,"06h":70,"12h":60,"24h":51.5,"48h":35.5,"96h":26.5},{"p":94,"00h":75,"06h":67,"12h":58,"24h":50.5,"48h":35,"96h":26},{"p":92,"00h":72,"06h":65,"12h":57,"24h":49.5,"48h":34.5,"96h":26},{"p":90,"00h":70,"06h":63,"12h":56,"24h":49,"48h":34.5,"96h":26},{"p":85,"00h":66,"06h":60,"12h":54,"24h":48,"48h":34,"96h":26},{"p":80,"00h":62,"06h":56.5,"12h":52,"24h":47,"48h":33.5,"96h":26},{"p":75,"00h":59,"06h":53.5,"12h":50.5,"24h":46.5,"48h":33,"96h":26},{"p":70,"00h":56.5,"06h":51,"12h":48.5,"24h":45,"48h":32,"96h":25.5},{"p":60,"00h":51.5,"06h":46.5,"12h":44.5,"24h":41.5,"48h":30.5,"96h":25},{"p":50,"00h":46.5,"06h":42,"12h":40,"24h":38,"48h":29,"96h":24},{"p":40,"00h":41,"06h":37.5,"12h":36,"24h":34,"48h":26.5,"96h":22},{"p":30,"00h":35,"06h":32.5,"12h":31,"24h":29.5,"48h":24,"96h":20.5},{"p":25,"00h":32,"06h":30,"12h":28,"24h":27,"48h":22.5,"96h":20},{"p":20,"00h":29,"06h":27.5,"12h":26,"24h":25,"48h":21,"96h":18.5},{"p":15,"00h":25,"06h":24,"12h":23,"24h":22,"48h":19,"96h":17},{"p":10,"00h":21,"06h":20.5,"12h":19.5,"24h":19,"48h":16.5,"96h":15},{"p":7,"00h":18,"06h":17.5,"12h":17,"24h":16.5,"48h":14.5,"96h":13.5},{"p":5,"00h":15,"06h":15,"12h":14.5,"24h":14,"48h":12.5,"96h":12},{"p":3,"00h":12,"06h":12,"12h":12,"24h":11.5,"48h":11,"96h":10.5},{"p":2,"00h":10,"06h":10,"12h":10,"24h":10,"48h":9.5,"96h":9},{"p":1,"00h":8,"06h":8,"12h":8,"24h":8,"48h":8,"96h":7.5},{"p":0,"00h":4,"06h":4,"12h":4,"24h":4,"48h":4,"96h":4}
]
},
"resolve":{"scale":{"x":"independent","y":"independent","color":"independent"}},
"spacing":2,
"vconcat":[
{"hconcat":[
{"width":165,"height":78,"data":{"name":"A"},"layer":[
{"transform":[{"fold":["0h","48h"],"as":["series","val"]}],"mark":{"type":"line","strokeWidth":0.7},
"encoding":{"x":{"field":"x","type":"quantitative","scale":{"domain":[0,12.5],"nice":false},"axis":{"values":[0,2,4,6,8,10,12],"tickCount":20,"format":"d","title":"Profile lenght [mm]","labelOverlap":false,"labelPadding":5,"titlePadding":3}},
"y":{"field":"val","type":"quantitative","scale":{"domain":[-40,122.5],"nice":false},"axis":{"values":[-40,-20,0,20,40,60],"tickCount":20,"format":"d","title":"Profile height [µm]","titleY":54,"labelOverlap":false,"labelPadding":4,"titlePadding":4}},
"color":{"field":"series","type":"nominal","scale":{"domain":["0h","48h"],"range":["#4c6cc4","#d2bf00"]},
"legend":{"title":"Ti6Al4V\u00a0\u00a0\u00a0Feature A","orient":"none","legendX":-19,"legendY":-8,"direction":"vertical","strokeColor":"#000","fillColor":"#fff","padding":4,"titleFontSize":5.5,"titleFontWeight":"normal","titleAnchor":"middle","titlePadding":2,"titleColor":"#222","labelFontSize":5,"labelColor":"#222","labelLimit":400,"labelOffset":5,"symbolType":"stroke","symbolSize":49,"symbolStrokeWidth":1,"rowPadding":3,
"labelExpr":"datum.value=='0h' ? 'Time: 0h\u00a0\u00a0\u00a0Ra=15.53µm\u00a0\u00a0Rt=130.02µm\u00a0\u00a0\u00a0Rsk=0.57\u00a0\u00a0\u00a0Rku=2.77\u00a0\u00a0\u00a0RDq=0.73' : 'Time: 48h\u00a0\u00a0Ra=0.19µm\u00a0\u00a0Rt=1.16µm\u00a0\u00a0\u00a0Rsk=-1.26\u00a0\u00a0\u00a0Rku=2.16\u00a0\u00a0\u00a0RDq=0.03'"}}}},
{"data":{"values":[{}]},"mark":{"type":"rule","color":"#2a3a7a","strokeWidth":0.6},"encoding":{"y":{"datum":0,"type":"quantitative"}}},
{"data":{"values":[{"lab":"a"}]},"mark":{"type":"rect","filled":false,"color":"#000","strokeWidth":0.8},"encoding":{"x":{"datum":-1.57,"type":"quantitative"},"x2":{"datum":-1.06},"y":{"datum":-54.6,"type":"quantitative"},"y2":{"datum":-75.4}}},
{"data":{"values":[{"lab":"a"}]},"mark":{"type":"text","fontSize":6,"color":"#000"},"encoding":{"x":{"datum":-1.31,"type":"quantitative"},"y":{"datum":-65,"type":"quantitative"},"text":{"field":"lab"}}}
]},
{"width":130,"height":83,"data":{"name":"Ab"},"layer":[
{"transform":[{"fold":["00h","06h","12h","24h","48h","96h"],"as":["series","h"]}],"mark":{"type":"line","strokeWidth":0.9,"interpolate":"monotone"},
"encoding":{"x":{"field":"p","type":"quantitative","scale":{"domain":[0,100],"reverse":true,"nice":false},"axis":{"values":[100,75,50,25,0],"tickCount":20,"format":"d","title":"Height percentage [%]","labelOverlap":false,"labelPadding":2,"titlePadding":3}},
"y":{"field":"h","type":"quantitative","scale":{"domain":[0,100],"nice":false},"axis":{"values":[0,20,40,60,80,100],"tickCount":20,"format":"d","title":"Profile height [µm]","labelOverlap":false,"labelPadding":3.5,"titlePadding":3}},
"order":{"field":"p","sort":"descending"},
"color":{"field":"series","type":"nominal","scale":{"domain":["00h","06h","12h","24h","48h","96h"],"range":["#5b73c4","#d8c400","#9cbc2c","#d0a040","#a58ad6","#bfa024"]},
"legend":{"title":null,"orient":"none","legendX":110,"legendY":2,"padding":0,"labelFontSize":5.5,"labelColor":"#222","labelOffset":3,"symbolType":"stroke","symbolSize":90,"symbolStrokeWidth":1,"rowPadding":0.5}}}},
{"data":{"values":[{"lab":"b"}]},"mark":{"type":"rect","filled":false,"color":"#000","strokeWidth":0.8},"encoding":{"x":{"datum":110.5,"type":"quantitative"},"x2":{"datum":106.7},"y":{"datum":-2.4,"type":"quantitative"},"y2":{"datum":-14.6}}},
{"data":{"values":[{"lab":"b"}]},"mark":{"type":"text","fontSize":6,"color":"#000"},"encoding":{"x":{"datum":108.6,"type":"quantitative"},"y":{"datum":-8.5,"type":"quantitative"},"text":{"field":"lab"}}}
]}
],"spacing":10,"resolve":{"scale":{"x":"independent","y":"independent","color":"independent"}}},
{"hconcat":[
{"width":165,"height":78,"data":{"name":"B"},"layer":[
{"transform":[{"fold":["0h","48h"],"as":["series","val"]}],"mark":{"type":"line","strokeWidth":0.7},
"encoding":{"x":{"field":"x","type":"quantitative","scale":{"domain":[0,12.5],"nice":false},"axis":{"values":[0,2,4,6,8,10,12],"tickCount":20,"format":"d","title":"Profile lenght [mm]","labelOverlap":false,"labelPadding":5,"titlePadding":3}},
"y":{"field":"val","type":"quantitative","scale":{"domain":[-40,122.5],"nice":false},"axis":{"values":[-40,-20,0,20,40,60],"tickCount":20,"format":"d","title":"Profile height [µm]","titleY":54,"labelOverlap":false,"labelPadding":4,"titlePadding":4}},
"color":{"field":"series","type":"nominal","scale":{"domain":["0h","48h"],"range":["#4c6cc4","#d2bf00"]},
"legend":{"title":"Ti6Al4V\u00a0\u00a0\u00a0Feature B","orient":"none","legendX":-19,"legendY":-8,"direction":"vertical","strokeColor":"#000","fillColor":"#fff","padding":4,"titleFontSize":5.5,"titleFontWeight":"normal","titleAnchor":"middle","titlePadding":2,"titleColor":"#222","labelFontSize":5,"labelColor":"#222","labelLimit":400,"labelOffset":5,"symbolType":"stroke","symbolSize":49,"symbolStrokeWidth":1,"rowPadding":3,
"labelExpr":"datum.value=='0h' ? 'Time: 0h\u00a0\u00a0\u00a0Ra=13.73µm\u00a0\u00a0Rt=133.46µm\u00a0\u00a0\u00a0Rsk=0.88\u00a0\u00a0\u00a0Rku=3.57\u00a0\u00a0\u00a0RDq=0.89' : 'Time: 48h\u00a0\u00a0Ra=5.83µm\u00a0\u00a0Rt=56.96µm\u00a0\u00a0\u00a0Rsk=-1.\u00a0\u00a0\u00a0Rku=3.74\u00a0\u00a0\u00a0RDq=0.38'"}}}},
{"data":{"values":[{}]},"mark":{"type":"rule","color":"#f06a6a","strokeWidth":0.6},"encoding":{"y":{"datum":0,"type":"quantitative"}}},
{"data":{"values":[{}]},"mark":{"type":"rule","color":"#f0a0c8","strokeWidth":0.6},"encoding":{"y":{"datum":-12,"type":"quantitative"}}},
{"data":{"values":[{"lab":"c"}]},"mark":{"type":"rect","filled":false,"color":"#000","strokeWidth":0.8},"encoding":{"x":{"datum":-1.57,"type":"quantitative"},"x2":{"datum":-1.06},"y":{"datum":-54.6,"type":"quantitative"},"y2":{"datum":-75.4}}},
{"data":{"values":[{"lab":"c"}]},"mark":{"type":"text","fontSize":6,"color":"#000"},"encoding":{"x":{"datum":-1.31,"type":"quantitative"},"y":{"datum":-65,"type":"quantitative"},"text":{"field":"lab"}}}
]},
{"width":130,"height":83,"data":{"name":"Bb"},"layer":[
{"transform":[{"fold":["00h","06h","12h","24h","48h","96h"],"as":["series","h"]}],"mark":{"type":"line","strokeWidth":0.9,"interpolate":"monotone"},
"encoding":{"x":{"field":"p","type":"quantitative","scale":{"domain":[0,100],"reverse":true,"nice":false},"axis":{"values":[100,75,50,25,0],"tickCount":20,"format":"d","title":"Height percentage [%]","labelOverlap":false,"labelPadding":2,"titlePadding":3}},
"y":{"field":"h","type":"quantitative","scale":{"domain":[0,100],"nice":false},"axis":{"values":[0,20,40,60,80,100],"tickCount":20,"format":"d","title":"Profile height [µm]","labelOverlap":false,"labelPadding":3.5,"titlePadding":3}},
"order":{"field":"p","sort":"descending"},
"color":{"field":"series","type":"nominal","scale":{"domain":["00h","06h","12h","24h","48h","96h"],"range":["#5b73c4","#d8c400","#9cbc2c","#d0a040","#a58ad6","#bfa024"]},
"legend":{"title":null,"orient":"none","legendX":110,"legendY":2,"padding":0,"labelFontSize":5.5,"labelColor":"#222","labelOffset":3,"symbolType":"stroke","symbolSize":90,"symbolStrokeWidth":1,"rowPadding":0.5}}}},
{"data":{"values":[{"lab":"d"}]},"mark":{"type":"rect","filled":false,"color":"#000","strokeWidth":0.8},"encoding":{"x":{"datum":110.5,"type":"quantitative"},"x2":{"datum":106.7},"y":{"datum":-2.4,"type":"quantitative"},"y2":{"datum":-14.6}}},
{"data":{"values":[{"lab":"d"}]},"mark":{"type":"text","fontSize":6,"color":"#000"},"encoding":{"x":{"datum":108.6,"type":"quantitative"},"y":{"datum":-8.5,"type":"quantitative"},"text":{"field":"lab"}}}
]}
],"spacing":10,"resolve":{"scale":{"x":"independent","y":"independent","color":"independent"}}},
{"hconcat":[
{"width":165,"height":78,"data":{"name":"C"},"layer":[
{"transform":[{"fold":["0h","48h"],"as":["series","val"]}],"mark":{"type":"line","strokeWidth":0.7},
"encoding":{"x":{"field":"x","type":"quantitative","scale":{"domain":[0,12.5],"nice":false},"axis":{"values":[0,2,4,6,8,10,12],"tickCount":20,"format":"d","title":"Profile lenght [mm]","labelOverlap":false,"labelPadding":5,"titlePadding":3}},
"y":{"field":"val","type":"quantitative","scale":{"domain":[-40,122.5],"nice":false},"axis":{"values":[-40,-20,0,20,40,60],"tickCount":20,"format":"d","title":"Profile height [µm]","titleY":54,"labelOverlap":false,"labelPadding":4,"titlePadding":4}},
"color":{"field":"series","type":"nominal","scale":{"domain":["0h","48h"],"range":["#4c6cc4","#d2bf00"]},
"legend":{"title":"Ti6Al4V\u00a0\u00a0\u00a0Feature C","orient":"none","legendX":-19,"legendY":-8,"direction":"vertical","strokeColor":"#000","fillColor":"#fff","padding":4,"titleFontSize":5.5,"titleFontWeight":"normal","titleAnchor":"middle","titlePadding":2,"titleColor":"#222","labelFontSize":5,"labelColor":"#222","labelLimit":400,"labelOffset":5,"symbolType":"stroke","symbolSize":49,"symbolStrokeWidth":1,"rowPadding":3,
"labelExpr":"datum.value=='0h' ? 'Time: 0h\u00a0\u00a0\u00a0Ra=5.48µm\u00a0\u00a0Rt=36.46µm\u00a0\u00a0\u00a0Rsk=-0.46\u00a0\u00a0\u00a0Rku=2.7\u00a0\u00a0\u00a0RDq=0.17' : 'Time: 48h\u00a0\u00a0Ra=0.16µm\u00a0\u00a0Rt=4.08µm\u00a0\u00a0\u00a0Rsk=-1.73\u00a0\u00a0\u00a0Rku=12\u00a0\u00a0\u00a0RDq=0.04'"}}}},
{"data":{"values":[{"lab":"e"}]},"mark":{"type":"rect","filled":false,"color":"#000","strokeWidth":0.8},"encoding":{"x":{"datum":-1.57,"type":"quantitative"},"x2":{"datum":-1.06},"y":{"datum":-54.6,"type":"quantitative"},"y2":{"datum":-75.4}}},
{"data":{"values":[{"lab":"e"}]},"mark":{"type":"text","fontSize":6,"color":"#000"},"encoding":{"x":{"datum":-1.31,"type":"quantitative"},"y":{"datum":-65,"type":"quantitative"},"text":{"field":"lab"}}}
]},
{"width":130,"height":83,"data":{"name":"Cb"},"layer":[
{"transform":[{"fold":["00h","06h","12h","24h","48h","96h"],"as":["series","h"]}],"mark":{"type":"line","strokeWidth":0.9,"interpolate":"monotone"},
"encoding":{"x":{"field":"p","type":"quantitative","scale":{"domain":[0,100],"reverse":true,"nice":false},"axis":{"values":[100,75,50,25,0],"tickCount":20,"format":"d","title":"Height percentage [%]","labelOverlap":false,"labelPadding":2,"titlePadding":3}},
"y":{"field":"h","type":"quantitative","scale":{"domain":[0,100],"nice":false},"axis":{"values":[0,20,40,60,80,100],"tickCount":20,"format":"d","title":"Profile height [µm]","labelOverlap":false,"labelPadding":3.5,"titlePadding":3}},
"order":{"field":"p","sort":"descending"},
"color":{"field":"series","type":"nominal","scale":{"domain":["00h","06h","12h","24h","48h","96h"],"range":["#5b73c4","#d8c400","#9cbc2c","#d0a040","#a58ad6","#bfa024"]},
"legend":{"title":null,"orient":"none","legendX":110,"legendY":2,"padding":0,"labelFontSize":5.5,"labelColor":"#222","labelOffset":3,"symbolType":"stroke","symbolSize":90,"symbolStrokeWidth":1,"rowPadding":0.5}}}},
{"data":{"values":[{"lab":"f"}]},"mark":{"type":"rect","filled":false,"color":"#000","strokeWidth":0.8},"encoding":{"x":{"datum":110.5,"type":"quantitative"},"x2":{"datum":106.7},"y":{"datum":-2.4,"type":"quantitative"},"y2":{"datum":-14.6}}},
{"data":{"values":[{"lab":"f"}]},"mark":{"type":"text","fontSize":6,"color":"#000"},"encoding":{"x":{"datum":108.6,"type":"quantitative"},"y":{"datum":-8.5,"type":"quantitative"},"text":{"field":"lab"}}}
]}
],"spacing":10,"resolve":{"scale":{"x":"independent","y":"independent","color":"independent"}}},
{"hconcat":[
{"width":165,"height":78,"data":{"name":"D"},"layer":[
{"transform":[{"fold":["0h","48h"],"as":["series","val"]}],"mark":{"type":"line","strokeWidth":0.7},
"encoding":{"x":{"field":"x","type":"quantitative","scale":{"domain":[0,12.5],"nice":false},"axis":{"values":[0,2,4,6,8,10,12],"tickCount":20,"format":"d","title":"Profile lenght [mm]","labelOverlap":false,"labelPadding":5,"titlePadding":3}},
"y":{"field":"val","type":"quantitative","scale":{"domain":[-40,122.5],"nice":false},"axis":{"values":[-40,-20,0,20,40,60],"tickCount":20,"format":"d","title":"Profile height [µm]","titleY":54,"labelOverlap":false,"labelPadding":4,"titlePadding":4}},
"color":{"field":"series","type":"nominal","scale":{"domain":["0h","48h"],"range":["#4c6cc4","#d2bf00"]},
"legend":{"title":"Ti6Al4V\u00a0\u00a0\u00a0Feature D","orient":"none","legendX":-19,"legendY":-8,"direction":"vertical","strokeColor":"#000","fillColor":"#fff","padding":4,"titleFontSize":5.5,"titleFontWeight":"normal","titleAnchor":"middle","titlePadding":2,"titleColor":"#222","labelFontSize":5,"labelColor":"#222","labelLimit":400,"labelOffset":5,"symbolType":"stroke","symbolSize":49,"symbolStrokeWidth":1,"rowPadding":3,
"labelExpr":"datum.value=='0h' ? 'Time: 0h\u00a0\u00a0\u00a0Ra=12.58µm\u00a0\u00a0Rt=95.78µm\u00a0\u00a0\u00a0Rsk=0.59\u00a0\u00a0\u00a0Rku=3.3\u00a0\u00a0\u00a0RDq=0.62' : 'Time: 48h\u00a0\u00a0Ra=3.65µm\u00a0\u00a0Rt=47.66µm\u00a0\u00a0\u00a0Rsk=-2.17\u00a0\u00a0\u00a0Rku=10.75\u00a0\u00a0\u00a0RDq=0.22'"}}}},
{"data":{"values":[{}]},"mark":{"type":"rule","color":"#f06a6a","strokeWidth":0.6},"encoding":{"y":{"datum":0,"type":"quantitative"}}},
{"data":{"values":[{}]},"mark":{"type":"rule","color":"#f0a0c8","strokeWidth":0.6},"encoding":{"y":{"datum":-15,"type":"quantitative"}}},
{"data":{"values":[{"lab":"g"}]},"mark":{"type":"rect","filled":false,"color":"#000","strokeWidth":0.8},"encoding":{"x":{"datum":-1.57,"type":"quantitative"},"x2":{"datum":-1.06},"y":{"datum":-54.6,"type":"quantitative"},"y2":{"datum":-75.4}}},
{"data":{"values":[{"lab":"g"}]},"mark":{"type":"text","fontSize":6,"color":"#000"},"encoding":{"x":{"datum":-1.31,"type":"quantitative"},"y":{"datum":-65,"type":"quantitative"},"text":{"field":"lab"}}}
]},
{"width":130,"height":83,"data":{"name":"Db"},"layer":[
{"transform":[{"fold":["00h","06h","12h","24h","48h","96h"],"as":["series","h"]}],"mark":{"type":"line","strokeWidth":0.9,"interpolate":"monotone"},
"encoding":{"x":{"field":"p","type":"quantitative","scale":{"domain":[0,100],"reverse":true,"nice":false},"axis":{"values":[100,75,50,25,0],"tickCount":20,"format":"d","title":"Height percentage [%]","labelOverlap":false,"labelPadding":2,"titlePadding":3}},
"y":{"field":"h","type":"quantitative","scale":{"domain":[0,100],"nice":false},"axis":{"values":[0,20,40,60,80,100],"tickCount":20,"format":"d","title":"Profile height [µm]","labelOverlap":false,"labelPadding":3.5,"titlePadding":3}},
"order":{"field":"p","sort":"descending"},
"color":{"field":"series","type":"nominal","scale":{"domain":["00h","06h","12h","24h","48h","96h"],"range":["#5b73c4","#d8c400","#9cbc2c","#d0a040","#a58ad6","#bfa024"]},
"legend":{"title":null,"orient":"none","legendX":110,"legendY":2,"padding":0,"labelFontSize":5.5,"labelColor":"#222","labelOffset":3,"symbolType":"stroke","symbolSize":90,"symbolStrokeWidth":1,"rowPadding":0.5}}}},
{"data":{"values":[{"lab":"h"}]},"mark":{"type":"rect","filled":false,"color":"#000","strokeWidth":0.8},"encoding":{"x":{"datum":110.5,"type":"quantitative"},"x2":{"datum":106.7},"y":{"datum":-2.4,"type":"quantitative"},"y2":{"datum":-14.6}}},
{"data":{"values":[{"lab":"h"}]},"mark":{"type":"text","fontSize":6,"color":"#000"},"encoding":{"x":{"datum":108.6,"type":"quantitative"},"y":{"datum":-8.5,"type":"quantitative"},"text":{"field":"lab"}}}
]}
],"spacing":10,"resolve":{"scale":{"x":"independent","y":"independent","color":"independent"}}},
{"hconcat":[
{"width":165,"height":78,"data":{"name":"E"},"layer":[
{"transform":[{"fold":["0h","48h"],"as":["series","val"]}],"mark":{"type":"line","strokeWidth":0.7},
"encoding":{"x":{"field":"x","type":"quantitative","scale":{"domain":[0,12.5],"nice":false},"axis":{"values":[0,2,4,6,8,10,12],"tickCount":20,"format":"d","title":"Profile lenght [mm]","labelOverlap":false,"labelPadding":5,"titlePadding":3}},
"y":{"field":"val","type":"quantitative","scale":{"domain":[-40,122.5],"nice":false},"axis":{"values":[-40,-20,0,20,40,60],"tickCount":20,"format":"d","title":"Profile height [µm]","titleY":54,"labelOverlap":false,"labelPadding":4,"titlePadding":4}},
"color":{"field":"series","type":"nominal","scale":{"domain":["0h","48h"],"range":["#4c6cc4","#d2bf00"]},
"legend":{"title":"Ti6Al4V\u00a0\u00a0\u00a0Feature E","orient":"none","legendX":-19,"legendY":-8,"direction":"vertical","strokeColor":"#000","fillColor":"#fff","padding":4,"titleFontSize":5.5,"titleFontWeight":"normal","titleAnchor":"middle","titlePadding":2,"titleColor":"#222","labelFontSize":5,"labelColor":"#222","labelLimit":400,"labelOffset":5,"symbolType":"stroke","symbolSize":49,"symbolStrokeWidth":1,"rowPadding":3,
"labelExpr":"datum.value=='0h' ? 'Time: 0h\u00a0\u00a0\u00a0Ra=15.26µm\u00a0\u00a0Rt=137.65µm\u00a0\u00a0\u00a0Rsk=0.11\u00a0\u00a0\u00a0Rku=2.15\u00a0\u00a0\u00a0RDq=0.69' : 'Time: 48h\u00a0\u00a0Ra=4.26µm\u00a0\u00a0Rt=56.17µm\u00a0\u00a0\u00a0Rsk=-2.14\u00a0\u00a0\u00a0Rku=9.06\u00a0\u00a0\u00a0RDq=0.24'"}}}},
{"data":{"values":[{}]},"mark":{"type":"rule","color":"#f06a6a","strokeWidth":0.6},"encoding":{"y":{"datum":0,"type":"quantitative"}}},
{"data":{"values":[{}]},"mark":{"type":"rule","color":"#f0a0c8","strokeWidth":0.6},"encoding":{"y":{"datum":-15,"type":"quantitative"}}},
{"data":{"values":[{"lab":"i"}]},"mark":{"type":"rect","filled":false,"color":"#000","strokeWidth":0.8},"encoding":{"x":{"datum":-1.57,"type":"quantitative"},"x2":{"datum":-1.06},"y":{"datum":-54.6,"type":"quantitative"},"y2":{"datum":-75.4}}},
{"data":{"values":[{"lab":"i"}]},"mark":{"type":"text","fontSize":6,"color":"#000"},"encoding":{"x":{"datum":-1.31,"type":"quantitative"},"y":{"datum":-65,"type":"quantitative"},"text":{"field":"lab"}}}
]},
{"width":130,"height":83,"data":{"name":"Eb"},"layer":[
{"transform":[{"fold":["00h","06h","12h","24h","48h","96h"],"as":["series","h"]}],"mark":{"type":"line","strokeWidth":0.9,"interpolate":"monotone"},
"encoding":{"x":{"field":"p","type":"quantitative","scale":{"domain":[0,100],"reverse":true,"nice":false},"axis":{"values":[100,75,50,25,0],"tickCount":20,"format":"d","title":"Height percentage [%]","labelOverlap":false,"labelPadding":2,"titlePadding":3}},
"y":{"field":"h","type":"quantitative","scale":{"domain":[0,100],"nice":false},"axis":{"values":[0,20,40,60,80,100],"tickCount":20,"format":"d","title":"Profile height [µm]","labelOverlap":false,"labelPadding":3.5,"titlePadding":3}},
"order":{"field":"p","sort":"descending"},
"color":{"field":"series","type":"nominal","scale":{"domain":["00h","06h","12h","24h","48h","96h"],"range":["#5b73c4","#d8c400","#9cbc2c","#d0a040","#a58ad6","#bfa024"]},
"legend":{"title":null,"orient":"none","legendX":110,"legendY":2,"padding":0,"labelFontSize":5.5,"labelColor":"#222","labelOffset":3,"symbolType":"stroke","symbolSize":90,"symbolStrokeWidth":1,"rowPadding":0.5}}}},
{"data":{"values":[{"lab":"j"}]},"mark":{"type":"rect","filled":false,"color":"#000","strokeWidth":0.8},"encoding":{"x":{"datum":110.5,"type":"quantitative"},"x2":{"datum":106.7},"y":{"datum":-2.4,"type":"quantitative"},"y2":{"datum":-14.6}}},
{"data":{"values":[{"lab":"j"}]},"mark":{"type":"text","fontSize":6,"color":"#000"},"encoding":{"x":{"datum":108.6,"type":"quantitative"},"y":{"datum":-8.5,"type":"quantitative"},"text":{"field":"lab"}}}
]}
],"spacing":10,"resolve":{"scale":{"x":"independent","y":"independent","color":"independent"}}}
]
}
